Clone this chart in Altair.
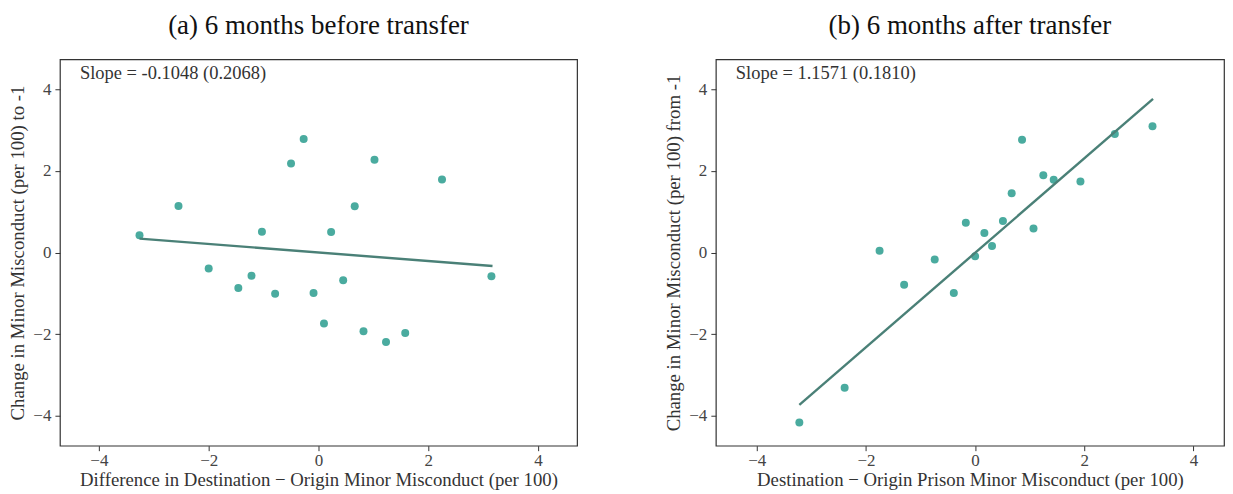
import altair as alt
import pandas as pd

# Panel (a): 6 months before transfer
a_x = [-3.26, -2.55, -2.00, -1.46, -1.22, -1.03, -0.79, -0.50, -0.27, -0.09,
       0.10, 0.23, 0.45, 0.66, 0.82, 1.02, 1.23, 1.58, 2.25, 3.15]
a_y = [0.42, 1.14, -0.39, -0.87, -0.57, 0.51, -1.01, 2.18, 2.78, -0.99,
       -1.74, 0.50, -0.68, 1.13, -1.93, 2.27, -2.19, -1.97, 1.79, -0.58]
a_line_x = [-3.26, 3.17]
a_line_y = [0.34, -0.33]
a_slope = "Slope = -0.1048 (0.2068)"

# Panel (b): 6 months after transfer
b_x = [-3.22, -2.39, -1.75, -1.30, -0.74, -0.39, -0.17, 0.00, 0.17, 0.31,
       0.51, 0.67, 0.86, 1.07, 1.25, 1.44, 1.93, 2.56, 3.25]
b_y = [-4.16, -3.31, 0.04, -0.79, -0.17, -0.99, 0.73, -0.09, 0.48, 0.16,
       0.77, 1.45, 2.76, 0.59, 1.89, 1.78, 1.74, 2.90, 3.09]
b_line_x = [-3.22, 3.26]
b_line_y = [-3.73, 3.76]
b_slope = "Slope = 1.1571 (0.1810)"

FONT = "Liberation Serif"
PT_COLOR = "#4aab9f"
LN_COLOR = "#4a8077"


def panel(xs, ys, lx, ly, slope_txt, title, xtitle, ytitle, width, xdom):
    pts = pd.DataFrame({"x": xs, "y": ys})
    ln = pd.DataFrame({"x": lx, "y": ly})
    xsc = alt.Scale(domain=xdom, nice=False, zero=False)
    ysc = alt.Scale(domain=[-4.73, 4.73], nice=False, zero=False)
    xax = alt.Axis(title=xtitle, values=[-4, -2, 0, 2, 4], grid=False, domain=False,
                   tickColor="#333333", tickSize=5, labelFontSize=17, labelFont=FONT,
                   labelColor="#444444", titleFontSize=18.8, titleFont=FONT,
                   titleFontWeight="normal", titleColor="#333333", labelPadding=2,
                   titlePadding=2)
    yax = alt.Axis(title=ytitle, values=[-4, -2, 0, 2, 4], grid=False, domain=False,
                   tickColor="#333333", tickSize=5, labelFontSize=17, labelFont=FONT,
                   labelColor="#444444", titleFontSize=18.8, titleFont=FONT,
                   titleFontWeight="normal", titleColor="#333333", labelPadding=4,
                   titlePadding=5)
    points = alt.Chart(pts).mark_circle(size=64, opacity=1, color=PT_COLOR).encode(
        x=alt.X("x:Q", scale=xsc, axis=xax),
        y=alt.Y("y:Q", scale=ysc, axis=yax),
    )
    line = alt.Chart(ln).mark_line(color=LN_COLOR, strokeWidth=2.4).encode(
        x=alt.X("x:Q", scale=xsc),
        y=alt.Y("y:Q", scale=ysc),
    )
    txt = alt.Chart(pd.DataFrame({"t": [slope_txt]})).mark_text(
        align="left", baseline="middle", font=FONT, fontSize=18.5, color="#333333"
    ).encode(x=alt.value(20), y=alt.value(14), text="t:N")
    return alt.layer(points, line, txt).properties(
        width=width, height=387,
        title=alt.TitleParams(title, font=FONT, fontSize=27, fontWeight="normal",
                              color="#111111", anchor="middle", offset=19),
    )


left = panel(a_x, a_y, a_line_x, a_line_y, a_slope, "(a) 6 months before transfer",
             "Difference in Destination \u2212 Origin Minor Misconduct (per 100)",
             "Change in Minor Misconduct (per 100) to -1", 518, [-4.71, 4.71])
right = panel(b_x, b_y, b_line_x, b_line_y, b_slope, "(b) 6 months after transfer",
              "Destination \u2212 Origin Prison Minor Misconduct (per 100)",
              "Change in Minor Misconduct (per 100) from -1", 509, [-4.75, 4.56])

chart = alt.hconcat(left, right, spacing=86).properties(
    padding={"top": 3, "left": 0, "right": 0, "bottom": 0}
).configure(background="white").configure_view(stroke="#333333", strokeWidth=1.2)

chart.save("out.html", embed_options={"renderer": "svg", "actions": False})
